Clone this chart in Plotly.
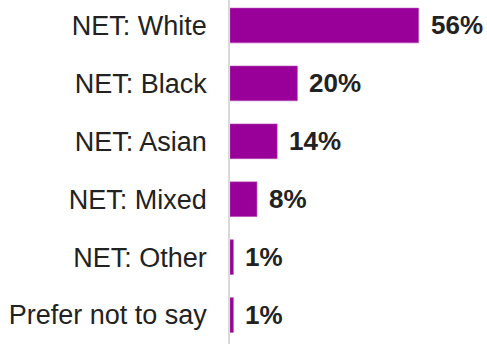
import plotly.graph_objects as go

# Ethnicity breakdown (percent of respondents)
categories = ["NET: White", "NET: Black", "NET: Asian", "NET: Mixed", "NET: Other", "Prefer not to say"]
values = [56, 20, 14, 8, 1, 1]
value_labels = ["56%", "20%", "14%", "8%", "1%", "1%"]

PURPLE = "#990099"
TEXT = "#222222"

fig = go.Figure(
    go.Bar(
        x=values,
        y=categories,
        orientation="h",
        marker=dict(color=PURPLE, line=dict(color="#b54db5", width=0.6)),
        width=0.6,
        hoverinfo="skip",
    )
)

# Bold value labels to the right of each bar
for cat, val, lab in zip(categories, values, value_labels):
    fig.add_annotation(
        x=val, y=cat, text=f"<b>{lab}</b>", showarrow=False,
        xanchor="left", yanchor="middle", xshift=10,
        font=dict(family="Liberation Sans, Arial, sans-serif", size=26, color=TEXT),
    )

fig.update_layout(
    width=487, height=344,
    margin=dict(l=230, r=0, t=0, b=0),
    paper_bgcolor="white", plot_bgcolor="white",
    showlegend=False,
    font=dict(family="Liberation Sans, Arial, sans-serif", size=27, color=TEXT),
)
fig.update_xaxes(range=[0, 76.3], visible=False, fixedrange=True)
fig.update_yaxes(
    type="category",
    range=[5.5, -0.44],
    showline=True, linecolor="#d9d9d9", linewidth=1.5,
    showgrid=False, zeroline=False,
    ticks="", ticklabelstandoff=16,
    tickfont=dict(size=27, color=TEXT),
    fixedrange=True,
)

fig.write_html("out.html")
